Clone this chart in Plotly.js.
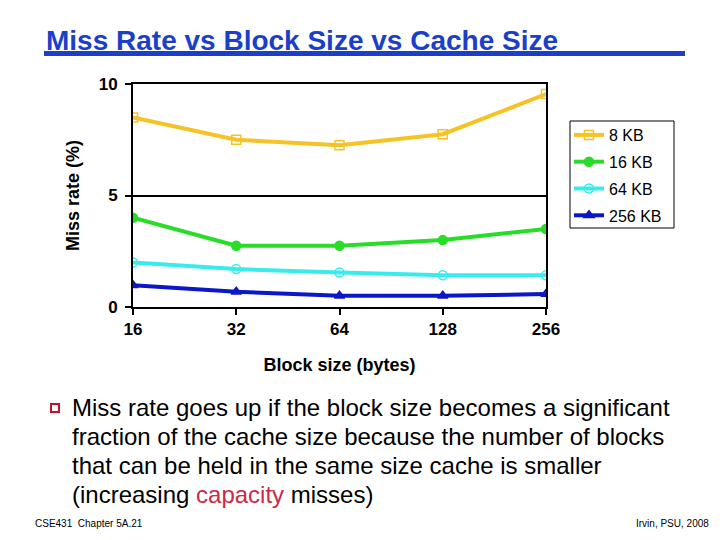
<!DOCTYPE html>
<html>
<head>
<meta charset="utf-8">
<script src="https://cdn.plot.ly/plotly-3.0.1.min.js"></script>
<style>
  html, body { margin: 0; padding: 0; background: #fff; }
  #chart { width: 720px; height: 540px; }
</style>
</head>
<body>
<div id="chart"></div>
<script>
// block sizes (bytes) on the x axis
const blockSizes = ['16', '32', '64', '128', '256'];
// miss rate (%) per cache size
const miss8KB   = [8.5, 7.5, 7.25, 7.75, 9.55];
const miss16KB  = [4.0, 2.75, 2.75, 3.0, 3.5];
const miss64KB  = [2.0, 1.7, 1.55, 1.42, 1.42];
const miss256KB = [0.98, 0.68, 0.5, 0.5, 0.58];
const seriesNames = ['8 KB', '16 KB', '64 KB', '256 KB'];
const yTicks = [0, 5, 10];

const FONT = 'Arial, "Liberation Sans", sans-serif';
const BLUE = '#1b3fc9';

// plot box in pixels, used to place the slide text around the chart
const L = 133, R = 546, T = 84, B = 307;
const px = x => (x - L) / (R - L);
const py = y => (B - y) / (B - T);

function trace(vals, name, color, symbol, fill) {
  return {
    x: blockSizes, y: vals, name: name, legendgroup: name,
    type: 'scatter', mode: 'lines+markers',
    line: { color: color, width: 4 },
    marker: { symbol: symbol, size: 9, color: fill, line: { color: color, width: 1.5 } }
  };
}

const data = [
  trace(miss8KB, seriesNames[0], '#f6c324', 'square-open', '#f6c324'),
  trace(miss16KB, seriesNames[1], '#27dd27', 'circle', '#27dd27'),
  trace(miss64KB, seriesNames[2], '#38ecec', 'circle-open', '#38ecec'),
  trace(miss256KB, seriesNames[3], '#0b18c8', 'triangle-up', '#0b18c8')
];

const bullet = [
  'Miss rate goes up if the block size becomes a significant',
  'fraction of the cache size because the number of blocks',
  'that can be held in the same size cache is smaller',
  '(increasing <span style="color:#cc2a45">capacity</span> misses)'
];
const annotations = bullet.map((t, i) => ({
  xref: 'paper', yref: 'paper', x: px(70), y: py(407 + i * 29),
  xanchor: 'left', yanchor: 'middle', showarrow: false, text: t,
  font: { family: FONT, size: 24, color: '#000' }
}));
annotations.push({
  xref: 'paper', yref: 'paper', x: px(33), y: py(523), xanchor: 'left', yanchor: 'middle',
  showarrow: false, text: 'CSE431  Chapter 5A.21',
  font: { family: '"Liberation Sans Narrow", "Arial Narrow", ' + FONT, size: 10, color: '#000' }
});
annotations.push({
  xref: 'paper', yref: 'paper', x: px(711), y: py(523), xanchor: 'right', yanchor: 'middle',
  showarrow: false, text: 'Irvin, PSU, 2008',
  font: { family: '"Liberation Sans Narrow", "Arial Narrow", ' + FONT, size: 10, color: '#000' }
});

const layout = {
  width: 720, height: 540,
  margin: { l: L, r: 720 - R, t: T, b: 540 - B, pad: 0 },
  paper_bgcolor: '#fff', plot_bgcolor: '#fff',
  font: { family: FONT, color: '#000' },
  title: {
    text: 'Miss Rate vs Block Size vs Cache Size',
    x: 46 / 720, xanchor: 'left', xref: 'container',
    y: 1 - 40 / 540, yanchor: 'middle', yref: 'container',
    font: { family: FONT, size: 28, color: BLUE, weight: 'bold' }
  },
  xaxis: {
    type: 'category', categoryorder: 'array', categoryarray: blockSizes,
    range: [0, 4], showgrid: false, zeroline: false,
    showline: true, linecolor: '#000', linewidth: 2, mirror: true,
    ticks: 'outside', ticklen: 6, tickwidth: 2, tickcolor: '#000',
    tickfont: { family: FONT, size: 17, weight: 'bold' },
    title: { text: 'Block size (bytes)', standoff: 20,
             font: { family: FONT, size: 18, weight: 'bold' } }
  },
  yaxis: {
    range: [0, 10], tickvals: yTicks, showgrid: true, gridcolor: '#000', gridwidth: 2,
    zeroline: false, showline: true, linecolor: '#000', linewidth: 2, mirror: true,
    ticks: 'outside', ticklen: 6, tickwidth: 2, tickcolor: '#000', ticklabelstandoff: 4,
    tickfont: { family: FONT, size: 17, weight: 'bold' },
    title: { text: 'Miss rate (%)', standoff: 14,
             font: { family: FONT, size: 18, weight: 'bold' } }
  },
  showlegend: true,
  legend: {
    x: px(569), y: py(118), xanchor: 'left', yanchor: 'top',
    bgcolor: 'rgba(0,0,0,0)', borderwidth: 0,
    traceorder: 'grouped', tracegroupgap: 3, itemwidth: 30,
    font: { family: FONT, size: 16, color: '#000' }
  },
  shapes: [
    { type: 'rect', xref: 'paper', yref: 'paper', x0: px(44), x1: px(685), y0: py(51), y1: py(56),
      fillcolor: BLUE, line: { width: 0 } },
    { type: 'rect', xref: 'paper', yref: 'paper', x0: px(51), x1: px(59), y0: py(404), y1: py(412),
      fillcolor: '#fff', line: { color: '#c3102f', width: 2 } },
    // legend frame
    { type: 'rect', xref: 'paper', yref: 'paper', x0: px(570), x1: px(674), y0: py(121), y1: py(228),
      fillcolor: 'rgba(0,0,0,0)', line: { color: '#000', width: 1 } }
  ],
  annotations: annotations
};

Plotly.newPlot('chart', data, layout, { displayModeBar: false, staticPlot: true });
</script>
</body>
</html>
